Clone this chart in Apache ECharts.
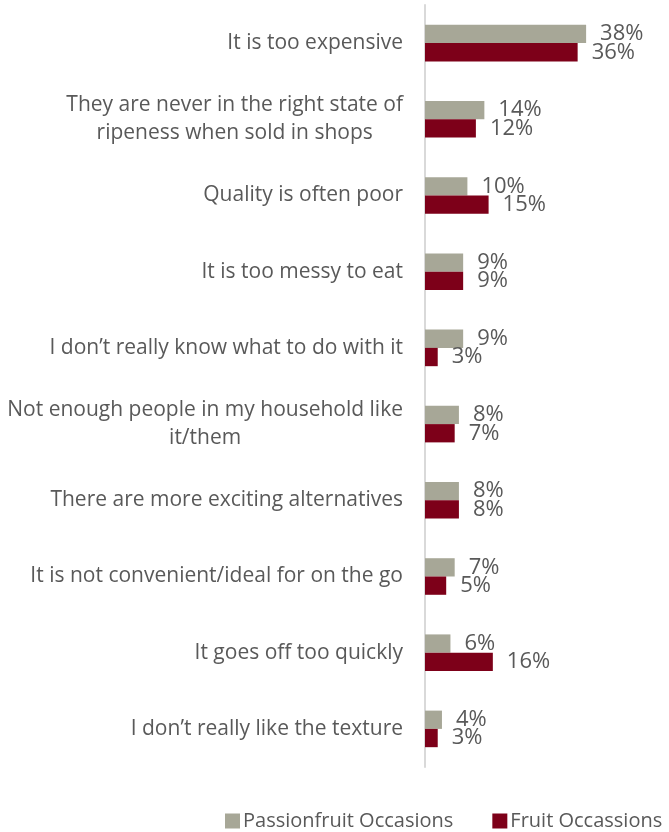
<!DOCTYPE html>
<html>
<head>
<meta charset="utf-8">
<script src="https://cdn.jsdelivr.net/npm/echarts@6/dist/echarts.min.js"></script>
<style>
html,body{margin:0;padding:0;background:#fff;}
#chart{width:669px;height:832px;}
</style>
</head>
<body>
<div id="chart"></div>
<script>
var categories = [
  "It is too expensive",
  "They are never in the right state of\nripeness when sold in shops",
  "Quality is often poor",
  "It is too messy to eat",
  "I don\u2019t really know what to do with it",
  "Not enough people in my household like\nit/them",
  "There are more exciting alternatives",
  "It is not convenient/ideal for on the go",
  "It goes off too quickly",
  "I don\u2019t really like the texture"
];
var seriesNames = ["Passionfruit Occasions", "Fruit Occassions"];
var passionfruit = [38, 14, 10, 9, 9, 8, 8, 7, 6, 4];
var fruit = [36, 12, 15, 9, 3, 7, 8, 5, 16, 3];

var FONT = "Open Sans";
var TXT = "#595959";
var chart = echarts.init(document.getElementById('chart'));
chart.setOption({
  animation: false,
  textStyle: {fontFamily: FONT},
  grid: {left: 425, right: 32, top: 5, bottom: 65},
  legend: {
    data: seriesNames,
    left: 220, top: 806,
    itemWidth: 15, itemHeight: 15, itemGap: 39,
    icon: 'rect',
    textStyle: {fontFamily: FONT, fontSize: 20, color: TXT, padding: [0,0,0,-2]}
  },
  xAxis: {type: 'value', min: 0, max: 50, show: false},
  yAxis: {
    type: 'category', data: categories, inverse: true,
    axisLine: {show: true, lineStyle: {color: '#d9d9d9', width: 2}},
    axisTick: {show: false},
    axisLabel: {
      margin: 22, color: TXT, fontSize: 21, fontFamily: FONT, lineHeight: 28,
      formatter: function (v) { return '{c|' + v.split('\n').join('}\n{c|') + '}'; },
      rich: {c: {align: 'center', fontSize: 21, fontFamily: FONT, color: TXT, lineHeight: 28}}
    }
  },
  series: [
    {
      name: seriesNames[0], type: 'bar', data: passionfruit,
      barGap: '0%', barCategoryGap: '52%',
      itemStyle: {color: '#a7a797'},
      label: {show: true, position: 'right', distance: 14, formatter: '{c}%', color: TXT, fontSize: 22, fontFamily: FONT}
    },
    {
      name: seriesNames[1], type: 'bar', data: fruit,
      barGap: '0%', barCategoryGap: '52%',
      itemStyle: {color: '#7d0019'},
      label: {show: true, position: 'right', distance: 14, formatter: '{c}%', color: TXT, fontSize: 22, fontFamily: FONT}
    }
  ]
});
</script>
</body>
</html>
